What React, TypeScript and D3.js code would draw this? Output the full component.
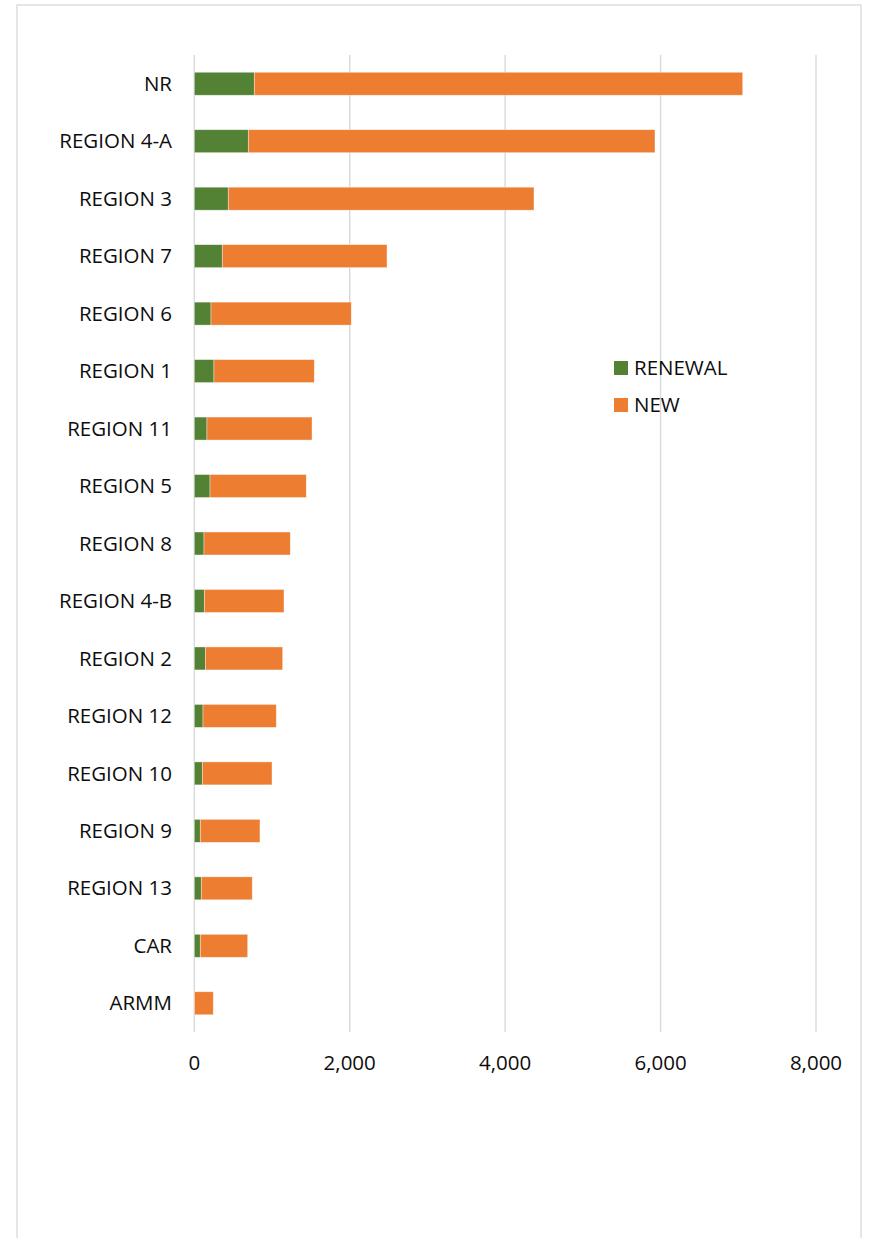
import React from "react";
import * as d3 from "d3";

// values (count per region)
const regions = [
  "NR", "REGION 4-A", "REGION 3", "REGION 7", "REGION 6", "REGION 1", "REGION 11", "REGION 5",
  "REGION 8", "REGION 4-B", "REGION 2", "REGION 12", "REGION 10", "REGION 9", "REGION 13", "CAR", "ARMM",
];
const renewal = [772, 695, 437, 360, 215, 253, 163, 202, 125, 129, 142, 112, 103, 77, 90, 77, 2];
const newer = [6285, 5233, 3934, 2120, 1805, 1291, 1352, 1239, 1110, 1025, 995, 943, 897, 768, 656, 610, 242];
const xTicks = [0, 2000, 4000, 6000, 8000];
const seriesNames = ["RENEWAL", "NEW"];
const seriesColors = ["#548235", "#ED7D31"];

const W = 869;
const H = 1238;
const font = "'Open Sans', 'Noto Sans', sans-serif";
const fs = 20.5;

export default function App() {
  const x = d3.scaleLinear().domain([0, 8000]).range([194.3, 816]);
  const y = d3.scaleBand<string>().domain(regions).range([55, 1032]).paddingInner(0.6).paddingOuter(0.3);

  const rows = regions.map((r, i) => ({ region: r, RENEWAL: renewal[i], NEW: newer[i] }));
  const stacked = d3.stack<any>().keys(seriesNames)(rows);
  const fmt = d3.format(",");

  return (
    <svg width={W} height={H} style={{ position: "absolute", left: 0, top: 0, display: "block" }} fontFamily={font}>
      <rect x={0} y={0} width={W} height={H} fill="#fff" />
      <rect x={17} y={5} width={844} height={H + 10} fill="none" stroke="#d9d9d9" strokeWidth={1.3} />

      {/* grid */}
      {xTicks.map((t) => (
        <line key={t} x1={x(t)} x2={x(t)} y1={55} y2={1032} stroke="#d9d9d9" strokeWidth={1.4} />
      ))}

      {/* bars */}
      {stacked.map((s, si) => (
        <g key={s.key} fill={seriesColors[si]}>
          {s.map((d, i) => (
            <rect
              key={i}
              x={x(d[0])}
              y={y(regions[i])}
              width={Math.max(0, x(d[1]) - x(d[0]))}
              height={y.bandwidth()}
              stroke="#fff"
              strokeOpacity={0.55}
              strokeWidth={0.7}
            />
          ))}
        </g>
      ))}

      {/* category labels */}
      {regions.map((r) => (
        <text key={r} x={172} y={y(r)! + y.bandwidth() / 2} dy="0.35em" textAnchor="end" fontSize={fs} fill="#0d0d0d">
          {r}
        </text>
      ))}

      {/* x tick labels */}
      {xTicks.map((t) => (
        <text key={t} x={x(t)} y={1063} dy="0.35em" textAnchor="middle" fontSize={fs} fill="#0d0d0d">
          {fmt(t)}
        </text>
      ))}

      {/* legend */}
      {seriesNames.map((n, i) => (
        <g key={n} transform={`translate(614,${368 + i * 37})`}>
          <rect x={0} y={-7} width={14} height={14} fill={seriesColors[i]} />
          <text x={20} y={0} dy="0.35em" fontSize={fs} fill="#0d0d0d">
            {n}
          </text>
        </g>
      ))}
    </svg>
  );
}
